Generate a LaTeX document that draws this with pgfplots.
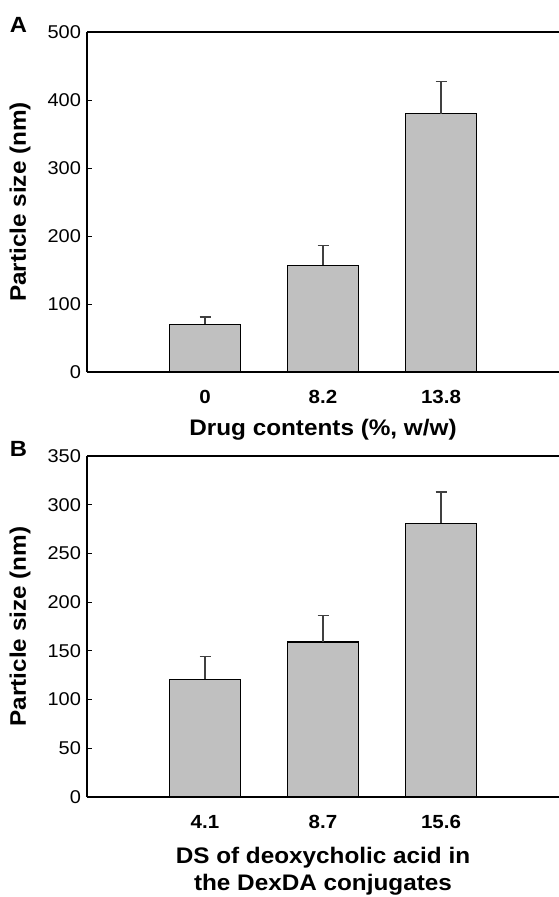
\documentclass[border=0pt]{standalone}
\usepackage{pgfplots}
\pgfplotsset{compat=1.18}
\usepackage{fontspec}
\setmainfont[FakeStretch=1.08]{Liberation Sans}
\definecolor{barfill}{HTML}{C0C0C0}
\definecolor{errcol}{HTML}{404040}
\pgfplotsset{
  panel/.style={
    scale only axis, width=472pt,
    xmin=-1, xmax=3, ymin=0,
    axis x line*=box, axis y line*=left,
    axis line style={line width=1.2pt, black},
    xtick={0,1,2}, major x tick style={draw=none},
    ytick pos=left, tick align=inside, major tick length=5pt,
    major y tick style={line width=1pt, black},
    /pgf/number format/assume math mode=true,
    yticklabel style={font=\fontsize{18.5}{20}\selectfont, xshift=-2.5pt},
    xticklabel style={font=\fontsize{19}{20}\selectfont\bfseries, anchor=base, yshift=-31.5pt},
    ylabel style={font=\fontsize{22.5}{24}\selectfont\bfseries, at={(axis description cs:-0.142,0.5)}, anchor=center},
    xlabel style={font=\fontsize{22.5}{27}\selectfont\bfseries, anchor=center, align=center},
    ylabel={Particle size (nm)},
  },
  barstyle/.style={
    ybar, bar width=71pt, fill=barfill, draw=black, line width=1.2pt,
    error bars/.cd, y dir=plus, y explicit,
    error bar style={line width=1.4pt, errcol},
    error mark options={rotate=90, mark size=5.5pt, line width=1.4pt, errcol},
  },
}
\begin{document}
\begin{tikzpicture}
\useasboundingbox (0,0) rectangle (559pt,-897pt);
\begin{axis}[panel, at={(87pt,-32pt)}, anchor=north west, height=340pt, ymax=500,
  ytick={0,100,200,300,400,500},
  xticklabels={0,8.2,13.8},
  xlabel={Drug contents (\%, w/w)},
  xlabel style={at={(axis description cs:0.5,-0.169)}},
]
\addplot[barstyle] coordinates {
  (0,70) +- (0,11)
  (1,157) +- (0,29)
  (2,380) +- (0,47)
};
\end{axis}
\node[font=\fontsize{22}{22}\selectfont\bfseries] at (18.5pt,-25pt) {A};
\begin{axis}[panel, at={(87pt,-456pt)}, anchor=north west, height=341pt, ymax=350,
  ytick={0,50,100,150,200,250,300,350},
  xticklabels={4.1,8.7,15.6},
  xlabel={DS of deoxycholic acid in\\the DexDA conjugates},
  xlabel style={at={(axis description cs:0.5,-0.217)}},
]
\addplot[barstyle] coordinates {
  (0,121) +- (0,23)
  (1,159) +- (0,27)
  (2,281) +- (0,32)
};
\end{axis}
\node[font=\fontsize{22}{22}\selectfont\bfseries] at (18.5pt,-449pt) {B};
\end{tikzpicture}
\end{document}
